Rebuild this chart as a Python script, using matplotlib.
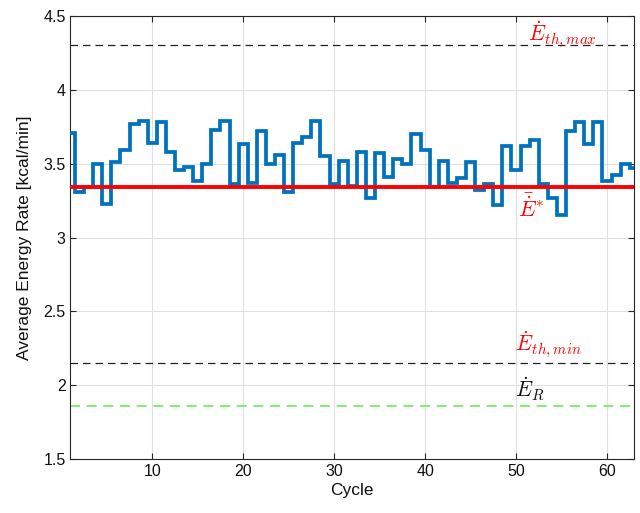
import matplotlib
matplotlib.use("Agg")
import matplotlib.pyplot as plt
import numpy as np

plt.rcParams['font.family'] = ['Liberation Sans', 'DejaVu Sans']
plt.rcParams['mathtext.fontset'] = 'cm'

# Average energy rate per cycle [kcal/min]
cycles = list(range(1, 64))
energy_rate = [
    3.71, 3.31, 3.34, 3.50, 3.23, 3.51, 3.59, 3.77, 3.79, 3.64,
    3.78, 3.58, 3.46, 3.48, 3.38, 3.50, 3.73, 3.79, 3.36, 3.63,
    3.37, 3.72, 3.50, 3.56, 3.31, 3.64, 3.68, 3.79, 3.55, 3.36,
    3.52, 3.35, 3.58, 3.27, 3.57, 3.41, 3.53, 3.50, 3.70, 3.59,
    3.34, 3.52, 3.37, 3.40, 3.51, 3.32, 3.36, 3.22, 3.62, 3.46,
    3.62, 3.66, 3.36, 3.27, 3.15, 3.72, 3.78, 3.63, 3.78, 3.38,
    3.42, 3.50, 3.47,
]

# Reference levels
e_star = 3.34
e_th_max = 4.30
e_th_min = 2.15
e_rest = 1.86

xticks = [10, 20, 30, 40, 50, 60]
yticks = [1.5, 2.0, 2.5, 3.0, 3.5, 4.0, 4.5]
ytick_labels = ["1.5", "2", "2.5", "3", "3.5", "4", "4.5"]

fig = plt.figure(figsize=(6.4, 5.13), dpi=100)
ax = fig.add_axes([0.110, 0.105, 0.881, 0.864])

ax.plot(cycles, energy_rate, drawstyle='steps-mid', color='#0072BD',
        linewidth=2.7, solid_joinstyle='miter', zorder=3)
ax.axhline(e_star, color='#FF0000', linewidth=2.8, zorder=4)
ax.axhline(e_th_max, color='#222222', linewidth=0.9, linestyle=(0, (6, 4)), zorder=2)
ax.axhline(e_th_min, color='#222222', linewidth=0.9, linestyle=(0, (6, 4)), zorder=2)
ax.axhline(e_rest, color='#66EE55', linewidth=1.2, linestyle=(0, (6, 4)), zorder=2)

ax.text(51.3, 4.37, r'$\dot{E}_{th,max}$', color='#FF0000', fontsize=15.5,
        ha='left', va='center')
ax.text(50.2, 3.20, r'$\bar{\dot{E}}^{*}$', color='#FF0000', fontsize=16,
        ha='left', va='center')
ax.text(49.9, 2.27, r'$\dot{E}_{th,min}$', color='#FF0000', fontsize=15.5,
        ha='left', va='center')
ax.text(49.9, 1.98, r'$\dot{E}_{R}$', color='#111111', fontsize=15.5,
        ha='left', va='center')

ax.set_xlim(1, 63)
ax.set_ylim(1.5, 4.5)
ax.set_xticks(xticks)
ax.set_xticklabels([str(t) for t in xticks])
ax.set_yticks(yticks)
ax.set_yticklabels(ytick_labels)

ax.grid(True, color='#E0E0E0', linewidth=0.8)
ax.set_axisbelow(True)
for s in ax.spines.values():
    s.set_color('#262626')
    s.set_linewidth(0.8)
ax.tick_params(direction='in', length=4, width=0.8, colors='#262626',
               labelsize=11.5, top=True, right=True, labelcolor='#111111')

ax.set_xlabel('Cycle', fontsize=12.5, color='#111111', labelpad=3)
ax.set_ylabel('Average Energy Rate [kcal/min]', fontsize=12.5, color='#111111', labelpad=8)

fig.savefig('out.png', dpi=100)
